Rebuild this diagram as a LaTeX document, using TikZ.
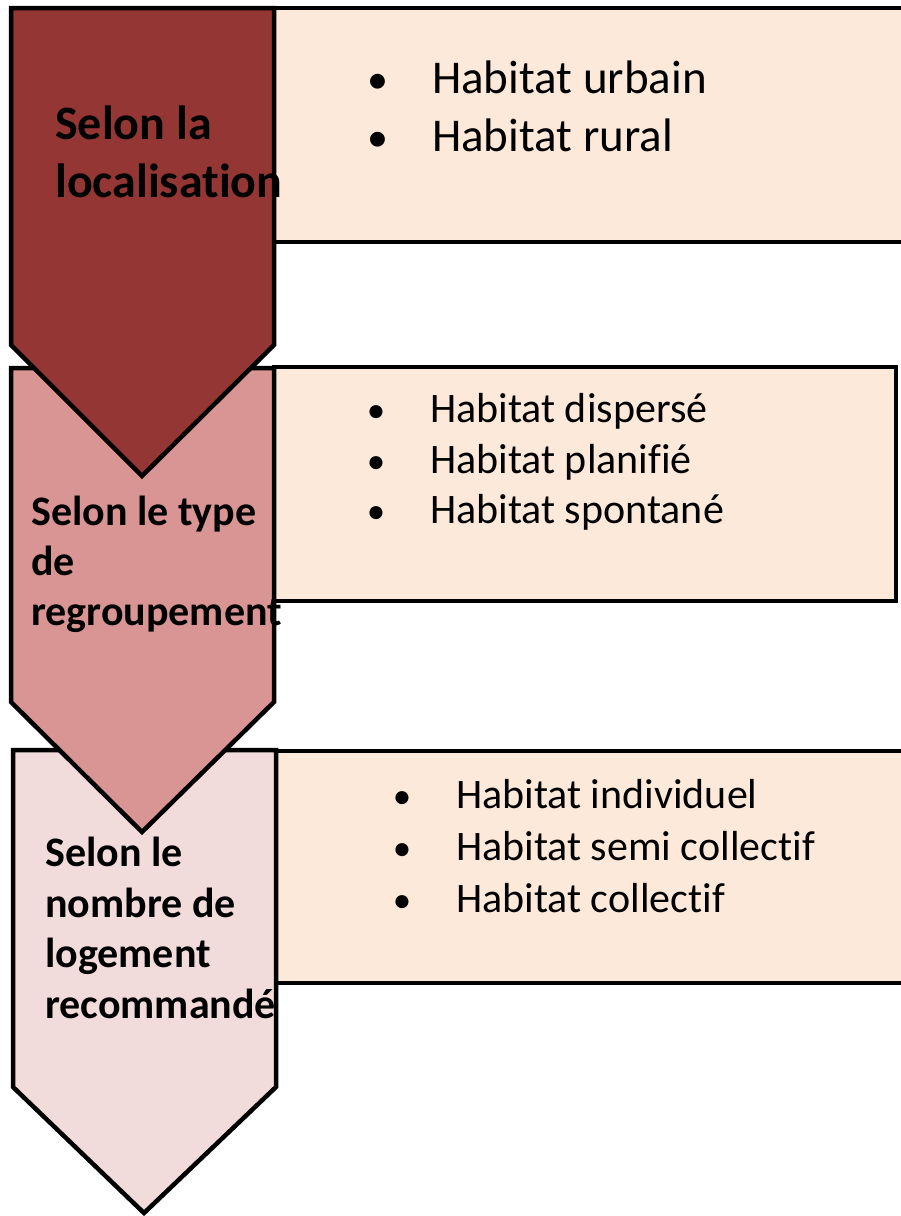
\documentclass[tikz,border=0pt]{standalone}
\usepackage{fontspec}
\setmainfont{Carlito}[Ligatures={NoCommon}]
\definecolor{chevA}{HTML}{943634}
\definecolor{chevB}{HTML}{D99594}
\definecolor{chevC}{HTML}{F2DCDB}
\definecolor{boxfill}{HTML}{FDE9D9}
\tikzset{
  outline/.style={draw=black, line width=4.5pt, line join=miter},
  boxshape/.style={outline, fill=boxfill},
  headA/.style={anchor=base west, inner sep=0pt, font=\fontsize{48}{58}\selectfont\bfseries},
  headB/.style={anchor=base west, inner sep=0pt, font=\fontsize{42}{50}\selectfont\bfseries},
  itemA/.style={anchor=base west, inner sep=0pt, font=\fontsize{47}{58}\selectfont},
  itemB/.style={anchor=base west, inner sep=0pt, font=\fontsize{42}{51}\selectfont},
  bulletA/.style={anchor=base, inner sep=0pt, font=\fontsize{42}{58}\selectfont},
  bulletB/.style={anchor=base, inner sep=0pt, font=\fontsize{37}{51}\selectfont},
}
\begin{document}
\begin{tikzpicture}[x=1pt,y=-1pt]
\useasboundingbox (0,0) rectangle (900,1216);
% boxes
\path[boxshape] (274,8) rectangle (910,242);
\path[boxshape] (274,367) rectangle (896,601);
\path[boxshape] (276,751) rectangle (910,983);
% chevrons (bottom first)
\path[outline, fill=chevC] (13,750) -- (276,750) -- (276,1087) -- (144,1213) -- (13,1087) -- cycle;
\path[outline, fill=chevB] (11,368) -- (274,368) -- (274,702) -- (142,832) -- (11,702) -- cycle;
\path[outline, fill=chevA] (11,8) -- (274,8) -- (274,345) -- (142,476) -- (11,345) -- cycle;
% chevron texts
\node[headA] (h1a) at (55,139) {Selon la};
\node[headA] (h1b) at (55,197) {localisation};
\node[headB] (h2a) at (31,525) {Selon le type};
\node[headB] (h2b) at (31,575) {de};
\node[headB] (h2c) at (31,625) {regroupement};
\node[headB] (h3a) at (45,866) {Selon le};
\node[headB] (h3b) at (45,917) {nombre de};
\node[headB] (h3c) at (45,967) {logement};
\node[headB] (h3d) at (45,1018) {recommandé};
% box 1 items
\node[bulletA] (b1a) at (378,93) {•};
\node[itemA] (t1a) at (432,93) {Habitat urbain};
\node[bulletA] (b1b) at (378,151) {•};
\node[itemA] (t1b) at (432,151) {Habitat rural};
% box 2 items
\node[bulletB] (b2a) at (376,422) {•};
\node[itemB] (t2a) at (430,422) {Habitat dispersé};
\node[bulletB] (b2b) at (376,473) {•};
\node[itemB] (t2b) at (430,473) {Habitat planifié};
\node[bulletB] (b2c) at (376,523) {•};
\node[itemB] (t2c) at (430,523) {Habitat spontané};
% box 3 items
\node[bulletB] (b3a) at (402,808) {•};
\node[itemB] (t3a) at (456,808) {Habitat individuel};
\node[bulletB] (b3b) at (402,860) {•};
\node[itemB] (t3b) at (456,860) {Habitat semi collectif};
\node[bulletB] (b3c) at (402,912) {•};
\node[itemB] (t3c) at (456,912) {Habitat collectif};
\end{tikzpicture}
\end{document}
